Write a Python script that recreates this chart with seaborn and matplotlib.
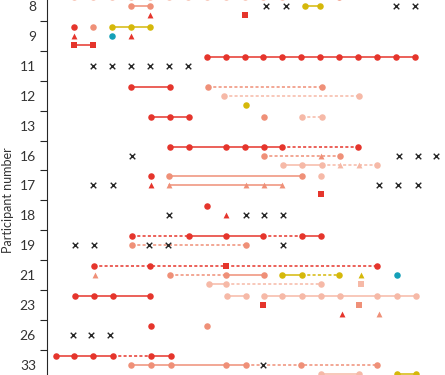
import numpy as np
import pandas as pd
import matplotlib
matplotlib.use("Agg")
import matplotlib.pyplot as plt
import seaborn as sns

# --- Data ---
# each participant has three sub-rows (0 = top, 1 = middle, 2 = bottom)
participants = ["8", "9", "11", "12", "13", "16", "17", "18", "19", "21", "23", "26", "33"]

# marks: (participant, sub-row, x positions)
red_circles = [
    ("9", 0, [1.0]),
    ("11", 0, [8, 9, 10, 11, 12, 13, 14, 15, 16, 17, 18, 19]),
    ("12", 0, [4.0, 6.05]),
    ("13", 0, [5.05, 6.05, 7.05]),
    ("16", 0, [6.05, 7.05, 9.0, 10.0, 11.05, 12.0, 16.0]),
    ("17", 0, [5.05]),
    ("18", 0, [8.0]),
    ("19", 0, [4.05, 7.05, 9.0, 11.0, 13.05, 14.05]),
    ("21", 0, [2.05, 5.0, 17.0]),
    ("23", 0, [1.05, 2.05, 3.05, 5.0]),
    ("26", 0, [5.05]),
    ("33", 0, [0.0, 1.0, 2.0, 3.05, 5.05, 6.1]),
]
salmon_circles = [
    ("8", 0, [15.0]),
    ("8", 1, [4.0, 5.0]),
    ("9", 0, [2.0]),
    ("12", 0, [8.05, 14.1]),
    ("13", 0, [11.05]),
    ("16", 1, [11.05, 15.05]),
    ("17", 0, [6.0, 13.05]),
    ("19", 1, [4.05, 10.05]),
    ("21", 1, [6.05, 9.0, 11.05]),
    ("26", 0, [8.0]),
    ("33", 1, [4.0, 5.05, 6.1, 9.0, 10.1, 13.0, 17.0]),
]
pale_circles = [
    ("8", 0, [1, 2, 3, 4, 5, 6, 7, 8, 9, 10, 11, 12]),
    ("12", 1, [8.9, 16.05]),
    ("13", 0, [13.05, 14.1]),
    ("16", 2, [12.05, 13.05, 14.1, 17.0]),
    ("17", 0, [14.05]),
    ("21", 2, [8.1, 9.0, 14.05]),
    ("23", 0, [9.05, 10.1, 11.05, 12.0, 13.05, 14.05, 15.05, 17.0, 18.05, 19.05]),
    ("33", 2, [14.05, 16.05]),
]
yellow_circles = [
    ("8", 1, [13.2, 14.0]),
    ("9", 0, [3.0, 4.0, 5.0]),
    ("12", 2, [10.05]),
    ("21", 1, [12.0, 13.05, 15.0]),
    ("33", 2, [18.05, 19.05]),
]
teal_circles = [("9", 1, [3.0]), ("21", 1, [18.05])]
red_triangles = [
    ("8", 2, [5.0]),
    ("9", 1, [1.0, 4.0]),
    ("17", 1, [5.05]),
    ("18", 1, [9.0]),
    ("23", 2, [15.15]),
]
salmon_triangles = [
    ("16", 1, [14.05]),
    ("17", 1, [6.0, 10.05, 11.05, 12.0]),
    ("21", 1, [2.1]),
    ("23", 2, [17.1]),
]
pale_triangles = [("16", 2, [15.05, 16.05])]
yellow_triangles = [("21", 1, [16.15])]
red_squares = [
    ("8", 2, [10.0]),
    ("9", 2, [1.0, 2.0]),
    ("17", 2, [14.05]),
    ("21", 0, [9.0]),
    ("23", 1, [11.0]),
]
salmon_squares = [("23", 1, [16.05])]
pale_squares = [("21", 2, [16.15])]
crosses = [
    ("8", 1, [11.15, 12.2, 18.0, 19.0]),
    ("11", 1, [2, 3, 4, 5, 6, 7]),
    ("16", 1, [4.05, 18.15, 19.15, 20.15]),
    ("17", 1, [2.0, 3.05, 17.1, 18.1, 19.15]),
    ("18", 1, [6.0, 10.05, 11.05, 12.05]),
    ("19", 1, [1.05, 2.05, 4.95, 5.95, 12.05]),
    ("26", 1, [0.9, 1.9, 2.9]),
    ("33", 1, [11.0]),
]

# connecting lines: (participant, sub-row, [start, end])
red_solid = [
    ("9", 2, [1.0, 2.0]), ("11", 0, [8, 19]), ("12", 0, [4.0, 6.05]),
    ("13", 0, [5.05, 7.05]), ("16", 0, [6.05, 12.0]), ("19", 0, [7.05, 11.0]),
    ("19", 0, [13.05, 14.05]), ("23", 0, [1.05, 5.0]), ("33", 0, [0.0, 3.05]),
    ("33", 0, [5.05, 6.1]),
]
red_dashed = [
    ("16", 0, [12.0, 16.0]), ("19", 0, [4.05, 7.05]), ("19", 0, [11.0, 13.05]),
    ("21", 0, [2.05, 17.0]), ("33", 0, [3.05, 5.05]),
]
salmon_solid = [
    ("8", 1, [4.0, 5.0]), ("17", 0, [6.0, 13.05]), ("17", 1, [6.0, 12.0]),
    ("21", 1, [9.0, 11.05]), ("33", 1, [4.0, 10.1]),
]
salmon_dashed = [
    ("12", 0, [8.05, 14.1]), ("16", 1, [11.05, 15.05]), ("19", 1, [4.05, 10.05]),
    ("21", 1, [6.05, 9.0]), ("33", 1, [10.1, 17.0]),
]
pale_solid = [
    ("16", 2, [12.05, 14.1]), ("21", 2, [8.1, 9.0]), ("23", 0, [9.05, 10.1]),
    ("23", 0, [11.05, 19.05]), ("33", 2, [14.05, 16.05]),
]
pale_dashed = [
    ("12", 1, [8.9, 16.05]), ("13", 0, [13.05, 14.1]), ("16", 2, [14.1, 17.0]),
    ("21", 2, [9.0, 14.05]),
]
yellow_solid = [
    ("8", 1, [13.2, 14.0]), ("9", 0, [3.0, 5.0]), ("21", 1, [12.0, 13.05]),
    ("33", 2, [18.05, 19.05]),
]
yellow_dashed = [("21", 1, [13.05, 15.0])]

RED = "#e5352c"
SALMON = "#ef9078"
PALE = "#f6b9a7"
YELLOW = "#d5b80a"
TEAL = "#14a0b8"
DARK = "#262626"


def ypos(p, row):
    return participants.index(p) + (row - 1) * 0.3


def to_frame(groups):
    recs = [{"x": x, "y": ypos(p, r)} for p, r, xs in groups for x in xs]
    return pd.DataFrame(recs)


sns.set_style("white")
plt.rcParams["font.family"] = ["Lato", "DejaVu Sans"]
plt.rcParams["lines.scale_dashes"] = False

fig = plt.figure(figsize=(4.45, 3.75), dpi=100)
ax = fig.add_axes([47 / 445, 0, 398 / 445, 1])

# --- lines ---
line_sets = [
    (red_solid, RED, "-"), (red_dashed, RED, (0, (2.2, 1.6))),
    (salmon_solid, SALMON, "-"), (salmon_dashed, SALMON, (0, (2.2, 1.6))),
    (pale_solid, PALE, "-"), (pale_dashed, PALE, (0, (2.2, 1.6))),
    (yellow_solid, YELLOW, "-"), (yellow_dashed, YELLOW, (0, (2.2, 1.6))),
]
for groups, color, ls in line_sets:
    for p, r, xs in groups:
        y = ypos(p, r)
        ax.plot(xs, [y] * len(xs), color=color, lw=1.1, ls=ls, zorder=2)

# --- markers ---
marker_sets = [
    (pale_circles, PALE, "o", 22), (salmon_circles, SALMON, "o", 22),
    (red_circles, RED, "o", 22), (yellow_circles, YELLOW, "o", 22),
    (teal_circles, TEAL, "o", 22),
    (red_triangles, RED, "^", 18), (salmon_triangles, SALMON, "^", 18),
    (pale_triangles, PALE, "^", 18), (yellow_triangles, YELLOW, "^", 18),
    (red_squares, RED, "s", 15), (salmon_squares, SALMON, "s", 15),
    (pale_squares, PALE, "s", 15),
]
for groups, color, m, s in marker_sets:
    df = to_frame(groups)
    sns.scatterplot(data=df, x="x", y="y", color=color, marker=m, s=s,
                    linewidth=0, ax=ax, zorder=3)

sns.scatterplot(data=to_frame(crosses), x="x", y="y", color=DARK, marker="x",
                s=16, linewidth=1.0, ax=ax, zorder=3)

# --- axes ---
ax.set_xlim(-0.45, 20.6)
ax.set_ylim(12.34, -0.202)
ax.set_xticks([])
ax.set_xlabel("")
ax.set_yticks(np.arange(len(participants) - 1) + 0.5)
ax.set_yticklabels([])
ax.set_yticks(np.arange(len(participants)), minor=True)
ax.set_yticklabels(participants, minor=True)
ax.tick_params(axis="y", which="major", length=5, width=0.8, color=DARK, left=True)
ax.tick_params(axis="y", which="minor", length=0, pad=8, labelsize=10, labelcolor="#333333")
for side in ["top", "right", "bottom"]:
    ax.spines[side].set_visible(False)
ax.spines["left"].set_color(DARK)
ax.spines["left"].set_linewidth(0.8)
ax.set_ylabel("Participant number", fontsize=9, color="#333333")
ax.yaxis.set_label_coords(-0.083, 0.467)

fig.savefig("out.png", dpi=100)
